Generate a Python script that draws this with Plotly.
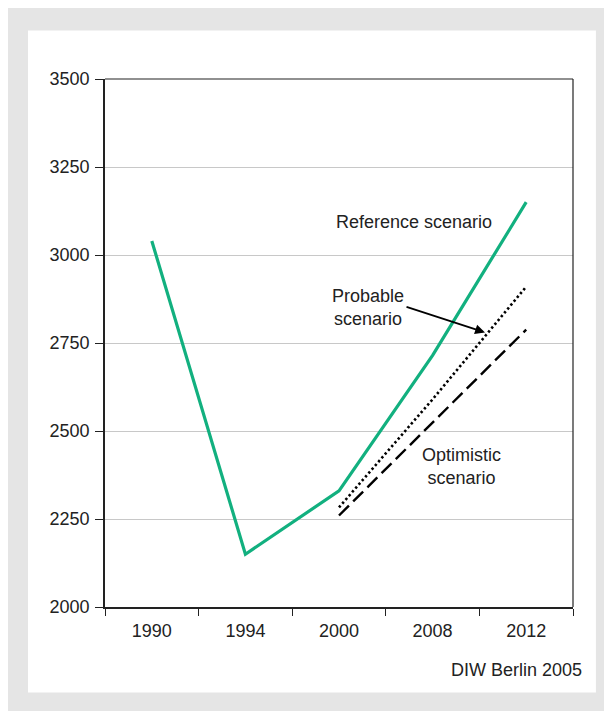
import plotly.graph_objects as go

years = ["1990", "1994", "2000", "2008", "2012"]
reference = [3040, 2150, 2330, 2715, 3150]
probable_years = ["2000", "2008", "2012"]
probable = [2283, 2590, 2910]
optimistic_years = ["2000", "2008", "2012"]
optimistic = [2260, 2524, 2788]
y_ticks = [2000, 2250, 2500, 2750, 3000, 3250, 3500]

FONT = "Liberation Sans, Arial, sans-serif"
GREEN = "#12b07f"
FS = 18

fig = go.Figure()
fig.add_trace(go.Scatter(x=years, y=reference, mode="lines",
                         line=dict(color=GREEN, width=3.2), name="Reference scenario"))
fig.add_trace(go.Scatter(x=probable_years, y=probable, mode="lines",
                         line=dict(color="black", width=2.6, dash="2.4px,2.6px"), name="Probable scenario"))
fig.add_trace(go.Scatter(x=optimistic_years, y=optimistic, mode="lines",
                         line=dict(color="black", width=2.4, dash="14px,6px"), name="Optimistic scenario"))

shapes = [
    # white panel
    dict(type="rect", xref="paper", yref="paper", x0=-0.1645, x1=1.049, y0=-0.1619, y1=1.0919,
         fillcolor="white", line=dict(width=0), layer="below"),
    # top and right frame
    dict(type="line", xref="paper", yref="paper", x0=0, x1=1, y0=1, y1=1,
         line=dict(color="#222", width=1.2)),
    dict(type="line", xref="paper", yref="paper", x0=1, x1=1, y0=0, y1=1,
         line=dict(color="#222", width=1.2)),
]

annotations = [
    dict(text="Reference scenario", x=2.80, y=3095, xref="x", yref="y", showarrow=False,
         font=dict(size=FS, color="#222", family=FONT)),
    dict(text="Probable<br>scenario", x=2.31, y=2852, xref="x", yref="y", showarrow=False,
         font=dict(size=FS, color="#222", family=FONT)),
    dict(text="", x=3.56, y=2780, xref="x", yref="y", showarrow=True, arrowhead=2,
         arrowsize=1.1, arrowwidth=1.8, arrowcolor="black", ax=-80, ay=-26),
    dict(text="Optimistic<br>scenario", x=3.31, y=2398, xref="x", yref="y", showarrow=False,
         font=dict(size=FS, color="#222", family=FONT)),
    dict(text="DIW Berlin 2005", x=1.023, y=-0.12, xref="paper", yref="paper",
         xanchor="right", yanchor="middle", showarrow=False,
         font=dict(size=FS, color="#222", family=FONT)),
]

fig.update_layout(
    width=612, height=711,
    margin=dict(l=97, r=47, t=71, b=112),
    paper_bgcolor="#e5e5e5",
    plot_bgcolor="white",
    showlegend=False,
    font=dict(family=FONT, size=FS, color="#222"),
    shapes=shapes,
    annotations=annotations,
    xaxis=dict(type="category", categoryorder="array", categoryarray=years,
               tickson="boundaries", ticks="outside", ticklen=7, tickwidth=1.3,
               tickcolor="#222", showline=True, linecolor="#222", linewidth=1.6,
               showgrid=False, zeroline=False, range=[-0.5, 4.5], ticklabelstandoff=7,
               tickfont=dict(size=FS, family=FONT, color="#222")),
    yaxis=dict(range=[2000, 3500], tickvals=y_ticks, ticks="outside", ticklen=8,
               tickwidth=1.3, tickcolor="#222", showline=True, linecolor="#222",
               linewidth=1.6, showgrid=True, gridcolor="#c8c8c8", gridwidth=1,
               zeroline=False, ticklabelstandoff=2,
               tickfont=dict(size=FS, family=FONT, color="#222")),
)

fig.write_html("out.html")
